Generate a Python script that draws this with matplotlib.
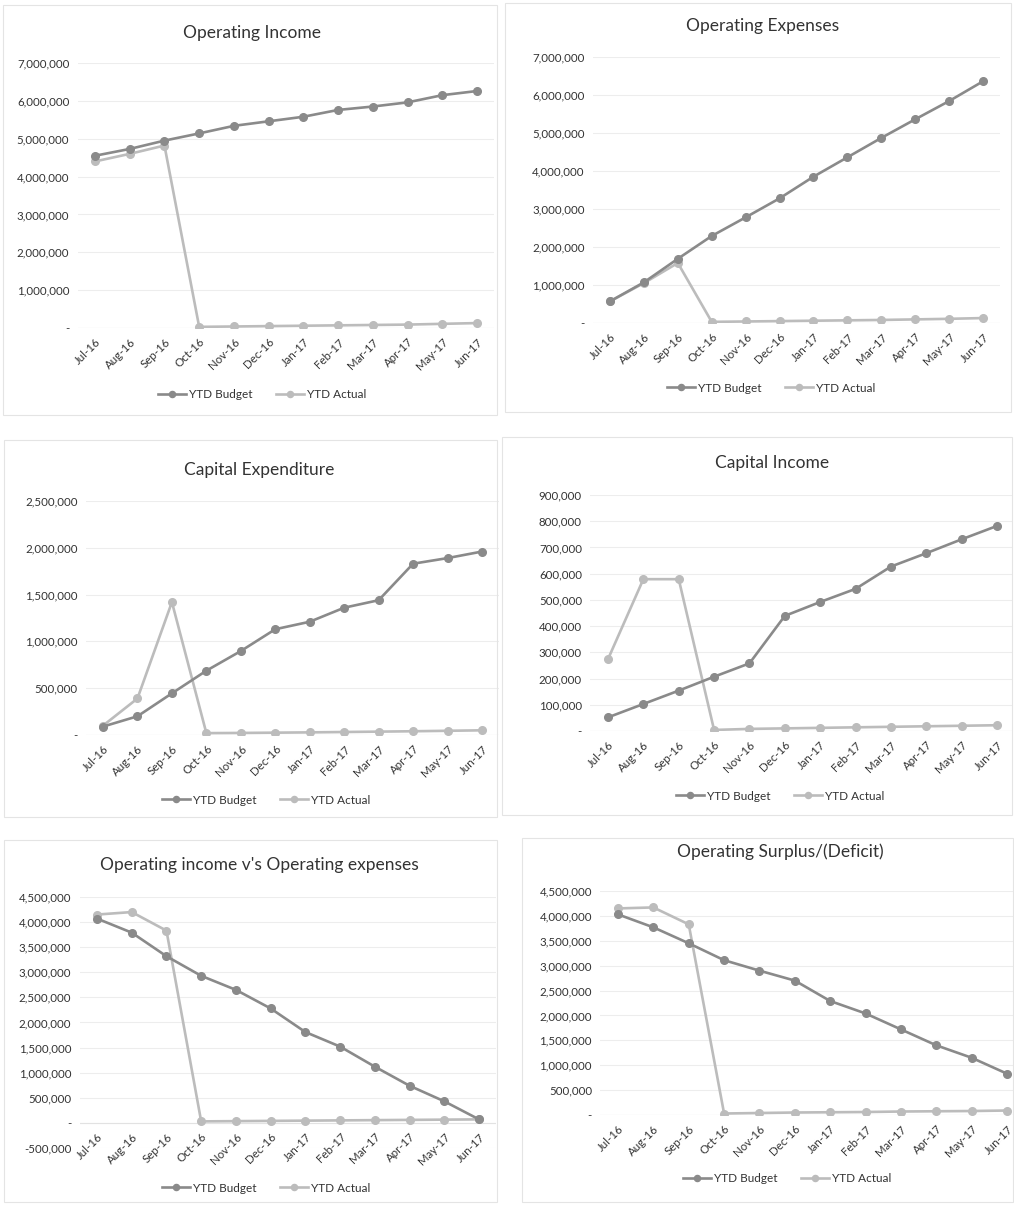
import numpy as np
import matplotlib; matplotlib.use("Agg")
import matplotlib.pyplot as plt
from matplotlib.ticker import FuncFormatter
from matplotlib.patches import Rectangle

plt.rcParams['font.family'] = ['Lato', 'DejaVu Sans']

months = ["Jul-16", "Aug-16", "Sep-16", "Oct-16", "Nov-16", "Dec-16",
          "Jan-17", "Feb-17", "Mar-17", "Apr-17", "May-17", "Jun-17"]

# values (approximate)
op_inc_budget = [4550000, 4730000, 4950000, 5140000, 5340000, 5460000,
                 5580000, 5760000, 5850000, 5960000, 6150000, 6260000]
op_inc_actual = [4400000, 4600000, 4820000, 30000, 40000, 50000,
                 60000, 70000, 80000, 90000, 110000, 130000]

op_exp_budget = [570000, 1070000, 1690000, 2290000, 2780000, 3280000,
                 3850000, 4360000, 4870000, 5360000, 5840000, 6360000]
op_exp_actual = [570000, 1050000, 1580000, 30000, 40000, 50000,
                 60000, 70000, 80000, 95000, 110000, 130000]

cap_exp_budget = [90000, 200000, 445000, 687000, 897000, 1130000,
                  1210000, 1360000, 1440000, 1830000, 1890000, 1960000]
cap_exp_actual = [100000, 390000, 1420000, 20000, 22000, 25000,
                  28000, 32000, 36000, 40000, 45000, 50000]

cap_inc_budget = [52000, 103000, 154000, 207000, 258000, 439000,
                  492000, 542000, 627000, 678000, 731000, 782000]
cap_inc_actual = [274000, 579000, 579000, 4000, 8000, 10000,
                  12000, 14000, 16000, 18000, 20000, 22000]

inc_v_exp_budget = [4070000, 3790000, 3320000, 2930000, 2650000, 2280000,
                    1810000, 1520000, 1120000, 740000, 430000, 70000]
inc_v_exp_actual = [4150000, 4200000, 3830000, 30000, 35000, 40000,
                    45000, 50000, 55000, 60000, 65000, 70000]

surplus_budget = [4030000, 3770000, 3450000, 3110000, 2900000, 2700000,
                  2290000, 2040000, 1720000, 1400000, 1150000, 830000]
surplus_actual = [4150000, 4170000, 3830000, 30000, 40000, 50000,
                  55000, 60000, 70000, 75000, 80000, 90000]

W, H = 1014, 1205
fig = plt.figure(figsize=(W / 100, H / 100), dpi=100)

BUD = "#8a8a8a"
ACT = "#bcbcbc"
TXT = "#333333"


def fmt(v, _):
    if abs(v) < 1:
        return "-"
    return f"{v:,.0f}"


# title, budget, actual, ylim, ystep, Jul/Jun centre px, y top/bottom px,
# title xy, legend xy, panel frame (all in page pixels)
panels = [
    ("Operating Income", op_inc_budget, op_inc_actual, (0, 7000000), 1000000,
     (95, 477), (63, 328), (252, 33), (262, 395), (3, 5, 497, 415)),
    ("Operating Expenses", op_exp_budget, op_exp_actual, (0, 7000000), 1000000,
     (610, 983), (57, 323), (763, 26), (771, 388), (505, 3, 1011, 412)),
    ("Capital Expenditure", cap_exp_budget, cap_exp_actual, (0, 2500000), 500000,
     (103, 482), (501, 735), (259, 470), (266, 800), (4, 440, 497, 817)),
    ("Capital Income", cap_inc_budget, cap_inc_actual, (0, 900000), 100000,
     (608, 997), (495, 731), (772, 463), (780, 796), (502, 437, 1012, 815)),
    ("Operating income v's Operating expenses", inc_v_exp_budget, inc_v_exp_actual,
     (-500000, 4500000), 500000,
     (97, 479), (897, 1148), (259, 865), (266, 1188), (4, 840, 497, 1202)),
    ("Operating Surplus/(Deficit)", surplus_budget, surplus_actual, (0, 4500000), 500000,
     (618, 1007), (891, 1115), (780, 852), (787, 1179), (522, 838, 1013, 1202)),
]

for title, bud, act, ylim, ystep, (xj, xn), (yt, yb), (tx, ty), (lx, ly), fr in panels:
    step = (xn - xj) / 11.0
    left = xj - step / 2
    right = min(xn + step / 2, W - 1)
    xr = 11 + (right - xn) / step
    ax = fig.add_axes([left / W, 1 - yb / H, (right - left) / W, (yb - yt) / H])
    for s in ax.spines.values():
        s.set_visible(False)
    # category labels sit next to the zero line, as in Excel
    # (set before the ticks: moving a spine resets the axis)
    ax.spines["bottom"].set_position(("data", 0))
    x = np.arange(len(months))
    ax.plot(x, bud, color=BUD, lw=1.9, marker="o", ms=5.5, mfc=BUD, mec=BUD,
            label="YTD Budget", zorder=3)
    ax.plot(x, act, color=ACT, lw=1.9, marker="o", ms=5.5, mfc=ACT, mec=ACT,
            label="YTD Actual", zorder=2)
    ax.set_xlim(-0.5, xr)
    ax.set_ylim(*ylim)
    ax.set_yticks(np.arange(ylim[0], ylim[1] + 1, ystep))
    ax.yaxis.set_major_formatter(FuncFormatter(fmt))
    ax.set_xticks(x)
    ax.set_xticklabels(months, rotation=45, ha="right", rotation_mode="anchor")
    ax.tick_params(length=0, labelsize=8.3, colors=TXT, pad=6)
    ax.grid(axis="y", color="#ededed", lw=0.8)
    ax.set_axisbelow(True)
    ax.axhline(0, color="#e2e2e2", lw=0.8, zorder=1)
    fig.text(tx / W, 1 - ty / H, title, ha="center", va="center",
             fontsize=12.5, color=TXT)
    ax.legend(loc="center", bbox_to_anchor=(lx / W, 1 - ly / H),
              bbox_transform=fig.transFigure, ncol=2, frameon=False,
              fontsize=8.5, labelcolor=TXT, handlelength=2.4, columnspacing=2.0,
              handletextpad=0.2, markerscale=0.8)
    x0, y0, x1, y1 = fr
    fig.patches.append(Rectangle((x0 / W, 1 - y1 / H), (x1 - x0) / W, (y1 - y0) / H,
                                 transform=fig.transFigure, fill=False,
                                 ec="#e4e4e4", lw=0.8))

fig.savefig("out.png", dpi=100)
